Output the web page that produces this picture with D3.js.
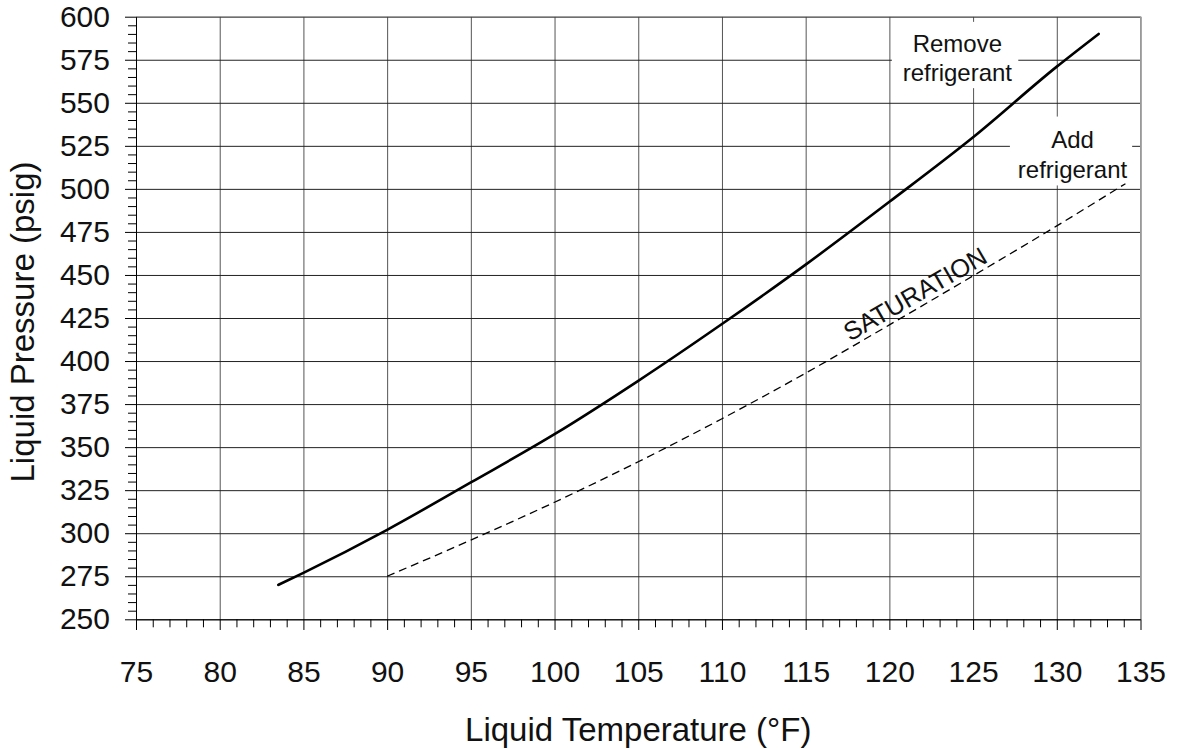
<!DOCTYPE html>
<html>
<head>
<meta charset="utf-8">
<script src="https://cdn.jsdelivr.net/npm/d3@7"></script>
<style>
  body { margin: 0; background: #fff; }
  text { font-family: "Liberation Sans", Arial, sans-serif; fill: #111; }
</style>
</head>
<body>
<div id="chart"></div>
<script>
// chart values
var tempTicks = [75, 80, 85, 90, 95, 100, 105, 110, 115, 120, 125, 130, 135];
var pressureTicks = [250, 275, 300, 325, 350, 375, 400, 425, 450, 475, 500, 525, 550, 575, 600];

// liquid line (solid)
var liquidTemp = [83.5, 85, 90, 95, 100, 105, 110, 115, 120, 125, 130, 132.5];
var liquidPressure = [270, 277, 302, 329.5, 357.5, 388.5, 421.5, 456, 492.5, 530, 571, 590];

// saturation line (dashed)
var satTemp = [90, 95, 100, 105, 110, 115, 120, 125, 130, 134.1];
var satPressure = [275, 296, 318, 341.5, 366.5, 393, 421, 449.5, 478.5, 503];

//set up graph boundaries
var svgWidth = 1177;
var svgHeight = 749;

var margin = { top: 16.7, right: 36.5, bottom: 129.7, left: 136 };

var width = svgWidth - margin.left - margin.right;
var height = svgHeight - margin.top - margin.bottom;

var svg = d3.select("#chart")
  .append("svg")
  .attr("width", svgWidth)
  .attr("height", svgHeight);

var chartGroup = svg.append("g")
  .attr("transform", `translate(${margin.left}, ${margin.top})`);

// scales
var xScale = d3.scaleLinear().domain([75, 135]).range([0, width]);
var yScale = d3.scaleLinear().domain([250, 600]).range([height, 0]);

// gridlines
var gridX = chartGroup.append("g")
  .attr("transform", `translate(0, ${height})`)
  .call(d3.axisBottom(xScale).tickValues(tempTicks).tickSize(-height).tickFormat(""));
gridX.select(".domain").remove();
gridX.selectAll("line").attr("stroke", "#555");

var gridY = chartGroup.append("g")
  .call(d3.axisLeft(yScale).tickValues(pressureTicks).tickSize(-width).tickFormat(""));
gridY.select(".domain").remove();
gridY.selectAll("line").attr("stroke", "#222");

// top and right border
chartGroup.append("path")
  .attr("d", `M0,0H${width}V${height}`)
  .attr("fill", "none")
  .attr("stroke", "#999");

// white boxes behind the annotations
var boxes = [
  { x0: 120.15, x1: 127.7, y0: 597, y1: 558.5 },
  { x0: 127.2, x1: 134.5, y0: 542, y1: 502 }
];
chartGroup.selectAll(".box")
  .data(boxes)
  .enter()
  .append("rect")
  .attr("class", "box")
  .attr("x", d => xScale(d.x0))
  .attr("y", d => yScale(d.y0))
  .attr("width", d => xScale(d.x1) - xScale(d.x0))
  .attr("height", d => yScale(d.y1) - yScale(d.y0))
  .attr("fill", "#fff");

// minor ticks
var minorX = d3.range(75, 136, 1).filter(d => d % 5 !== 0);
var minorY = d3.range(250, 601, 5).filter(d => d % 25 !== 0);

var xMinor = chartGroup.append("g")
  .attr("transform", `translate(0, ${height})`)
  .call(d3.axisBottom(xScale).tickValues(minorX).tickSize(8).tickFormat(""));
xMinor.select(".domain").remove();

var yMinor = chartGroup.append("g")
  .call(d3.axisLeft(yScale).tickValues(minorY).tickSize(8).tickFormat(""));
yMinor.select(".domain").remove();

// major axes
var bottomAxis = d3.axisBottom(xScale).tickValues(tempTicks).tickSize(10.7).tickSizeOuter(0).tickPadding(31);
var leftAxis = d3.axisLeft(yScale).tickValues(pressureTicks).tickSize(11).tickSizeOuter(0).tickPadding(15);

var xAxisG = chartGroup.append("g")
  .attr("transform", `translate(0, ${height})`)
  .call(bottomAxis);
xAxisG.selectAll("text").style("font-size", "30px").style("font-family", null).attr("fill", "#111");

var yAxisG = chartGroup.append("g")
  .call(leftAxis);
yAxisG.selectAll("text").style("font-size", "30px").style("font-family", null).attr("fill", "#111");

[xAxisG, yAxisG, xMinor, yMinor].forEach(function(g) {
  g.selectAll("line").attr("stroke", "#000");
  g.select(".domain").attr("stroke", "#000");
});

// lines
var liquidData = liquidTemp.map((t, i) => ({ t: t, p: liquidPressure[i] }));
var satData = satTemp.map((t, i) => ({ t: t, p: satPressure[i] }));

var line = d3.line()
  .x(d => xScale(d.t))
  .y(d => yScale(d.p))
  .curve(d3.curveMonotoneX);

chartGroup.append("path")
  .datum(satData)
  .attr("d", line)
  .attr("fill", "none")
  .attr("stroke", "#000")
  .attr("stroke-width", 1.3)
  .attr("stroke-dasharray", "8,5");

chartGroup.append("path")
  .datum(liquidData)
  .attr("d", line)
  .attr("fill", "none")
  .attr("stroke", "#000")
  .attr("stroke-width", 2.6)
  .attr("stroke-linecap", "round");

// annotations
function addLabel(t, p, lines) {
  var txt = chartGroup.append("text")
    .attr("x", xScale(t))
    .attr("y", yScale(p))
    .attr("text-anchor", "middle")
    .style("font-size", "24px");
  lines.forEach(function(s, i) {
    txt.append("tspan")
      .attr("x", xScale(t))
      .attr("dy", i === 0 ? 0 : 29.5)
      .text(s);
  });
}
addLabel(124.06, 579.5, ["Remove", "refrigerant"]);
addLabel(130.94, 523.7, ["Add", "refrigerant"]);

chartGroup.append("text")
  .attr("transform", `translate(${xScale(121.8)}, ${yScale(434.5)}) rotate(-30)`)
  .attr("text-anchor", "middle")
  .style("font-size", "25.5px")
  .text("SATURATION");

// axis titles
svg.append("text")
  .attr("x", margin.left + width / 2)
  .attr("y", 741)
  .attr("text-anchor", "middle")
  .style("font-size", "33px")
  .text("Liquid Temperature (°F)");

svg.append("text")
  .attr("transform", `translate(34, 322) rotate(-90)`)
  .attr("text-anchor", "middle")
  .style("font-size", "33px")
  .text("Liquid Pressure (psig)");
</script>
</body>
</html>
